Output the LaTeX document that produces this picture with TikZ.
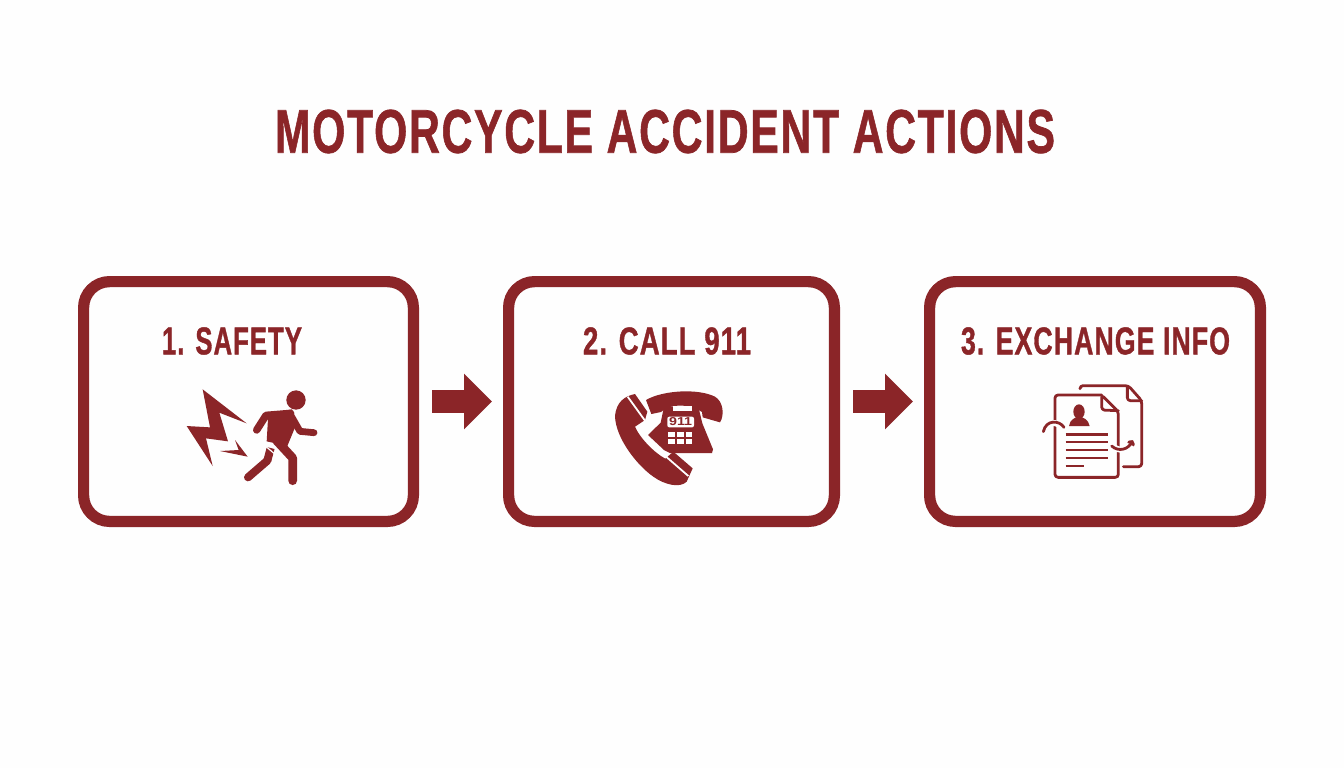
\documentclass[tikz,border=0pt]{standalone}
\usepackage{fontspec}
\usepackage{graphicx}
\setmainfont{Liberation Sans}[BoldFont={Liberation Sans Bold}]
\usetikzlibrary{arrows.meta}
\definecolor{brick}{HTML}{8B2528}
\definecolor{paper}{HTML}{FEFEFE}
\newcommand{\fittext}[3]{\resizebox{#1}{#2}{\bfseries\addfontfeature{LetterSpace=4,FakeBold=1.2}#3}}
\tikzset{
  stepbox/.style={draw=brick,line width=5.6pt,rounded corners=13pt,minimum height=119.9pt,inner sep=0pt},
  flowarrow/.style={draw=brick,line width=11.5pt,-{Triangle[length=14pt,width=27pt,fill=brick]},shorten <=6.5pt,shorten >=5.5pt},
  headtext/.style={text=brick,inner sep=0pt,anchor=center},
  zoomed/.style={x=0.16667pt,y=-0.16667pt},
  ink/.style={fill=brick,draw=none},
  limb/.style={draw=brick,line cap=round,line join=round},
  docline/.style={draw=brick,line width=1.4pt,line cap=round,line join=round,rounded corners=1.5pt},
  gap/.style={draw=paper,line width=3pt}
}
\begin{document}
\begin{tikzpicture}[x=0.5pt,y=0.5pt]
\fill[paper] (0,0) rectangle (1344,-768);
\useasboundingbox (0,0) rectangle (1344,-768);

\node[headtext] (title) at (665,-131.5) {\fittext{390pt}{21.5pt}{MOTORCYCLE ACCIDENT ACTIONS}};

\node[stepbox,minimum width=164.9pt] (box1) at (248.5,-401.5) {};
\node[stepbox,minimum width=162.9pt] (box2) at (671.5,-401.5) {};
\node[stepbox,minimum width=165.4pt] (box3) at (1095,-401.5) {};

\draw[flowarrow] (box1) -- (box2);
\draw[flowarrow] (box2) -- (box3);

\node[headtext] (label1) at (232,-341) {\fittext{70pt}{13.5pt}{1. SAFETY}};
\node[headtext] (label2) at (667,-341) {\fittext{84pt}{13.5pt}{2. CALL 911}};
\node[headtext] (label3) at (1095.5,-341) {\fittext{134.5pt}{13.5pt}{3. EXCHANGE INFO}};

% runner and lightning
\begin{scope}[shift={(160,-370)},zoomed]
  \fill[ink] (128,58) -- (260,160) -- (178,128) -- (204,214) -- (138,205) -- (158,288) -- (80,168) -- (150,172) -- cycle;
  \fill[ink] (225,210) -- (263,260) -- (180,243) -- (236,240) -- cycle;
  \fill[ink] (408,90) circle[x radius=29,y radius=29];
  \draw[limb,line width=3.7pt] (392,130) -- (318,136) -- (290,180);
  \draw[limb,line width=3.4pt] (392,135) -- (420,184) -- (462,188);
  \fill[ink] (325,130) -- (396,118) -- (408,165) -- (382,228) -- (320,214) -- cycle;
  \draw[limb,line width=4.4pt] (350,212) -- (398,264) -- (398,332);
  \draw[limb,line width=4pt,line cap=butt] (332,234) -- (322,272);
  \draw[limb,line width=4pt] (322,272) -- (264,322);
  \draw[draw=paper,line width=.6pt] (316,228) -- (342,250);
\end{scope}

% telephone
\begin{scope}[shift={(590,-370)},zoomed]
  \fill[ink] (168,90) .. controls (220,60) and (325,55) .. (375,80)
     .. controls (400,95) and (404,135) .. (390,157) -- (338,142) -- (336,126)
     .. controls (300,100) and (240,100) .. (213,126) -- (184,132) -- cycle;
  \fill[ink] (222,110) -- (325,110) -- (337,160) -- (369,238) -- (366,249) -- (240,249) -- (222,240) -- (174,195) -- (212,158) -- cycle;
  \fill[paper] (248,108) -- (305,108) -- (305,122) -- (248,122) -- cycle;
  \fill[paper,rounded corners=1pt] (232,140) rectangle (312,172);
  \node[inner sep=0pt,text=brick] (dial) at (272,156) {\resizebox{11.5pt}{4pt}{\bfseries 911}};
  \foreach \px in {235,261,287} \foreach \py in {187,208}
    \fill[paper] (\px,\py) rectangle ++(20,14);
  \fill[ink] (135,72) .. controls (105,78) and (78,95) .. (75,140)
     .. controls (78,205) and (140,285) .. (190,320)
     .. controls (225,345) and (270,355) .. (290,335)
     -- (308,295) -- (250,245) -- (226,266)
     .. controls (195,250) and (150,205) .. (135,170)
     -- (165,150) -- (172,125) -- cycle;
  \draw[draw=paper,line width=.9pt] (113,80) -- (165,152);
  \draw[draw=paper,line width=.9pt] (226,258) -- (295,318);
\end{scope}

% documents
\begin{scope}[shift={(1020,-370)},zoomed]
  \draw[docline] (180,56) -- (180,47) -- (325,47) -- (365,92) -- (365,290) -- (310,290);
  \draw[docline] (322,50) -- (322,92) -- (365,92);
  \draw[docline] (245,75) -- (105,75) -- (105,322) -- (295,322) -- (295,125) -- (245,75) -- (245,120) -- (295,122);
  \fill[ink] (177,125) circle[x radius=17,y radius=22];
  \fill[ink] (147,168) .. controls (150,148) and (165,142) .. (177,140)
     .. controls (190,142) and (205,148) .. (209,168) -- cycle;
  \foreach \ly in {193,216,240,264} \draw[docline,line cap=butt] (137,\ly) -- (264,\ly);
  \draw[docline,line cap=butt] (137,288) -- (192,288);
  \draw[gap] (68,192) .. controls (75,150) and (115,150) .. (132,180);
  \draw[docline] (70,185) .. controls (78,148) and (118,150) .. (132,172);
  \draw[gap] (275,225) .. controls (295,248) and (325,240) .. (338,218);
  \draw[docline] (275,228) .. controls (295,246) and (325,240) .. (337,214);
  \draw[docline] (326,217) -- (338,212) -- (340,225);
\end{scope}
\end{tikzpicture}
\end{document}
